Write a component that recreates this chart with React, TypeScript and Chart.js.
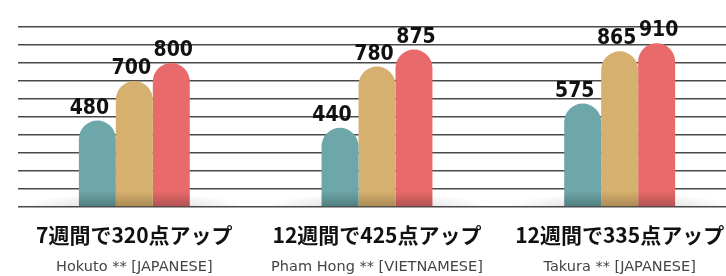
import React, { useEffect, useRef } from "react";
import { Chart, registerables } from "chart.js";

Chart.register(...registerables);

const categories = ["7週間で320点アップ", "12週間で425点アップ", "12週間で335点アップ"];
const subtitles = ["Hokuto ** [JAPANESE]", "Pham Hong ** [VIETNAMESE]", "Takura ** [JAPANESE]"];
const beforeScores = [480, 440, 575];
const midScores = [700, 780, 865];
const afterScores = [800, 875, 910];
const yTicks = [0, 100, 200, 300, 400, 500, 600, 700, 800, 900, 1000];

const colors = ["#6ea7a9", "#d6b06e", "#e86a6a"];
const darkColors = ["#4f7d7f", "#a88a55", "#b25252"];
const labelOffsets = [-8, -3, 2];

function barFill(i: number) {
  return (ctx: any) => {
    const chart = ctx.chart;
    const area = chart.chartArea;
    if (!area) return colors[i];
    const g = chart.ctx.createLinearGradient(0, area.bottom - 16, 0, area.bottom);
    g.addColorStop(0, colors[i]);
    g.addColorStop(1, darkColors[i]);
    return g;
  };
}

const clipPlugin = {
  id: "clipLeft",
  beforeDraw(chart: any) {
    const c = chart.ctx;
    c.save();
    c.beginPath();
    c.rect(18, 0, chart.width - 18, chart.height);
    c.clip();
  },
  afterDraw(chart: any) {
    chart.ctx.restore();
  },
};

const shadowPlugin = {
  id: "baseShadow",
  beforeDatasetsDraw(chart: any) {
    const c = chart.ctx;
    const xs = chart.scales.x;
    const bottom = chart.chartArea.bottom;
    categories.forEach((_, i) => {
      const cx = xs.getPixelForValue(i);
      c.save();
      c.translate(cx, bottom);
      c.scale(1, 0.12);
      const g = c.createRadialGradient(0, 0, 0, 0, 0, 115);
      g.addColorStop(0, "rgba(0,0,0,0.17)");
      g.addColorStop(1, "rgba(0,0,0,0)");
      c.fillStyle = g;
      c.beginPath();
      c.arc(0, 0, 115, Math.PI, 2 * Math.PI);
      c.fill();
      c.restore();
    });
  },
};

const labelPlugin = {
  id: "labels",
  afterDatasetsDraw(chart: any) {
    const c = chart.ctx;
    c.save();
    c.fillStyle = "#111";
    c.textAlign = "center";
    c.textBaseline = "alphabetic";
    c.font = "bold 21px 'DejaVu Sans Condensed', 'DejaVu Sans'";
    chart.data.datasets.forEach((ds: any, di: number) => {
      const meta = chart.getDatasetMeta(di);
      meta.data.forEach((bar: any, i: number) => {
        c.fillText(String(ds.data[i]), bar.x + labelOffsets[di], bar.y - 7);
      });
    });
    const xs = chart.scales.x;
    categories.forEach((cat, i) => {
      const cx = xs.getPixelForValue(i);
      c.fillStyle = "#111";
      c.font = "bold 21px 'Noto Sans CJK JP'";
      c.textBaseline = "middle";
      c.fillText(cat, cx, 235);
      c.fillStyle = "#444";
      c.font = "14.5px 'DejaVu Sans'";
      c.fillText(subtitles[i], cx, 267);
    });
    c.restore();
  },
};

export default function App() {
  const ref = useRef<HTMLCanvasElement>(null);
  useEffect(() => {
    if (!ref.current) return;
    const chart = new Chart(ref.current, {
      type: "bar",
      data: {
        labels: categories,
        datasets: [beforeScores, midScores, afterScores].map((d, i) => ({
          data: d,
          backgroundColor: barFill(i),
          borderWidth: 0,
          borderRadius: { topLeft: 100, topRight: 100, bottomLeft: 0, bottomRight: 0 },
          borderSkipped: "bottom",
          categoryPercentage: 0.457,
          barPercentage: 1,
        })),
      },
      options: {
        responsive: false,
        animation: false,
        devicePixelRatio: 1,
        layout: { padding: { left: 13, right: 5, top: 27, bottom: 69 } },
        plugins: { legend: { display: false }, tooltip: { enabled: false } },
        scales: {
          x: { display: false },
          y: {
            min: 0,
            max: 1000,
            afterBuildTicks: (s: any) => {
              s.ticks = yTicks.map((v) => ({ value: v }));
            },
            ticks: { display: false },
            border: { display: false },
            grid: { color: "#4a4a4a", lineWidth: 1.6, drawTicks: false },
          },
        },
      },
      plugins: [clipPlugin, shadowPlugin, labelPlugin],
    } as any);
    return () => chart.destroy();
  }, []);
  return (
    <div
      style={{
        position: "fixed",
        left: 0,
        top: 0,
        width: 726,
        height: 276,
        overflow: "hidden",
        background: "#fff",
      }}
    >
      <canvas ref={ref} width={746} height={276} />
    </div>
  );
}
